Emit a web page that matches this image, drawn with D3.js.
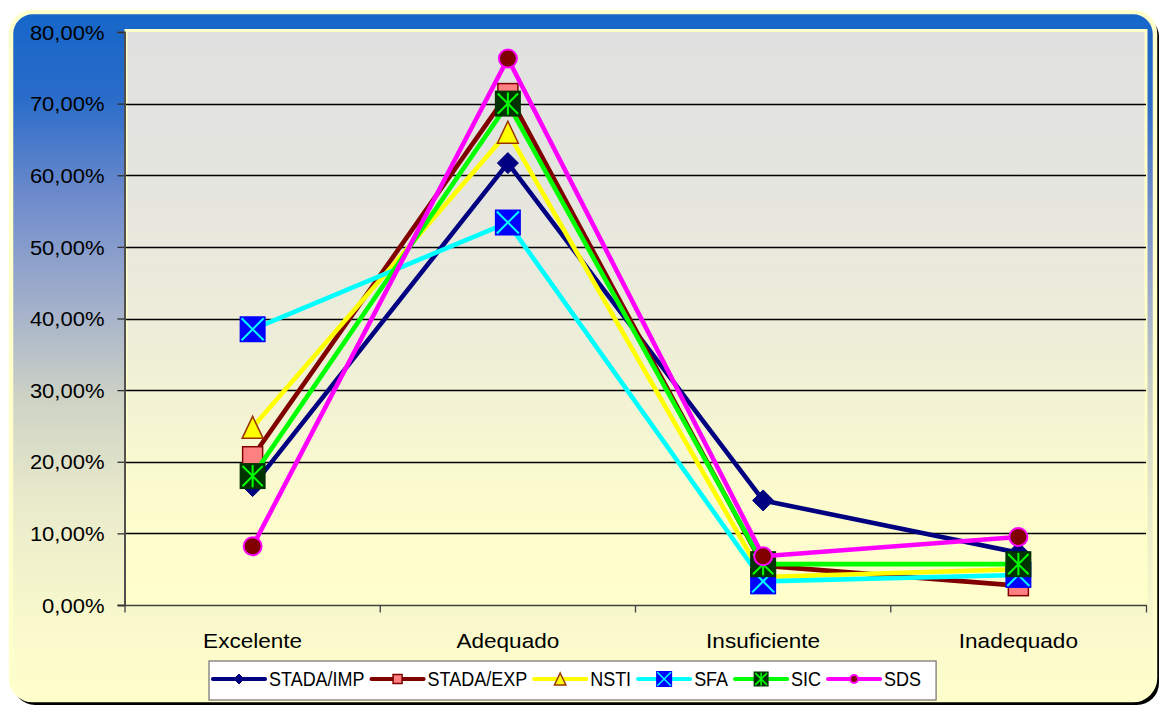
<!DOCTYPE html>
<html>
<head>
<meta charset="utf-8">
<script src="https://cdn.jsdelivr.net/npm/d3@7"></script>
<style>
  html, body { margin: 0; padding: 0; background: #ffffff; }
  svg { display: block; font-family: "Liberation Sans", Arial, sans-serif; }
</style>
</head>
<body>
<svg id="chart" width="1160" height="708"></svg>
<script>
// ---- data (percent) ----
const categories = ["Excelente", "Adequado", "Insuficiente", "Inadequado"];
const seriesNames = ["STADA/IMP", "STADA/EXP", "NSTI", "SFA", "SIC", "SDS"];
const stadaImp = [16.6, 61.7, 14.6, 7.3];
const stadaExp = [20.7, 71.4, 5.5, 2.7];
const nsti     = [24.8, 66.0, 3.9, 5.0];
const sfa      = [38.5, 53.4, 3.3, 4.2];
const sic      = [18.0, 70.0, 5.7, 5.7];
const sds      = [8.2, 76.3, 6.8, 9.5];
const yTickValues = [0, 10, 20, 30, 40, 50, 60, 70, 80];

const seriesValues = [stadaImp, stadaExp, nsti, sfa, sic, sds];

// ---- styles ----
const styles = [
  { line: "#000080", marker: "diamond",  fill: "#000080", stroke: "#000080", size: 21, legendSize: 10 },
  { line: "#800000", marker: "square",   fill: "#FF8080", stroke: "#800000", size: 20, legendSize: 9 },
  { line: "#FFFF00", marker: "triangle", fill: "#FFFF00", stroke: "#993300", size: 22, legendSize: 12 },
  { line: "#00FFFF", marker: "xsquare",  fill: "#0000FF", stroke: "#00FFFF", size: 26, legendSize: 16 },
  { line: "#00FF00", marker: "star",     fill: "#003300", stroke: "#00FF00", size: 26, legendSize: 15 },
  { line: "#FF00FF", marker: "circle",   fill: "#800000", stroke: "#FF00FF", size: 20, legendSize: 10 }
];

const series = seriesNames.map((name, i) => ({ name, values: seriesValues[i], style: styles[i] }));

const svg = d3.select("#chart");
const defs = svg.append("defs");

// frame background gradient
const fg = defs.append("linearGradient").attr("id", "frameGrad")
  .attr("x1", 0).attr("y1", 0).attr("x2", 0).attr("y2", 1);
[[0, "#1566C9"], [0.125, "#2A6CC9"], [0.27, "#6E8BCB"], [0.42, "#A0AECB"],
 [0.56, "#CDD2C4"], [0.71, "#E9EACB"], [0.85, "#F6F6CC"], [1, "#FFFFCC"]]
  .forEach(([o, c]) => fg.append("stop").attr("offset", o).attr("stop-color", c));

// plot area gradient
const pg = defs.append("linearGradient").attr("id", "plotGrad")
  .attr("x1", 0).attr("y1", 0).attr("x2", 0).attr("y2", 1);
[[0, "#E0E0E0"], [0.3, "#E6E6DF"], [0.55, "#EEEED8"], [0.8, "#FBFBCE"], [1, "#FFFFCC"]]
  .forEach(([o, c]) => pg.append("stop").attr("offset", o).attr("stop-color", c));

// chart frame with shadow
svg.append("rect").attr("x", 13).attr("y", 15).attr("width", 1146).attr("height", 690)
  .attr("rx", 22).attr("fill", "#000000");
svg.append("rect").attr("x", 11).attr("y", 12).attr("width", 1144).attr("height", 688)
  .attr("rx", 22).attr("fill", "url(#frameGrad)").attr("stroke", "#FFFFCC").attr("stroke-width", 4.5);

// ---- scales ----
const plot = { left: 125, right: 1146, top: 32, bottom: 605 };
const x = d3.scaleBand().domain(categories).range([plot.left, plot.right]).padding(0);
const y = d3.scaleLinear().domain([0, 80]).range([plot.bottom, plot.top]);
const cx = c => x(c) + x.bandwidth() / 2;

// plot area
svg.append("rect")
  .attr("x", plot.left + 1).attr("y", plot.top - 1.5)
  .attr("width", plot.right - plot.left - 1).attr("height", plot.bottom - plot.top + 1.5)
  .attr("fill", "url(#plotGrad)").attr("stroke", "#FFFFC8").attr("stroke-width", 3);

// horizontal gridlines
svg.append("g").selectAll("line").data(yTickValues.filter(v => v > 0 && v < 80)).join("line")
  .attr("x1", plot.left).attr("x2", plot.right)
  .attr("y1", d => Math.round(y(d)) + 0.5).attr("y2", d => Math.round(y(d)) + 0.5)
  .attr("stroke", "#000000").attr("stroke-width", 1.3);

// stretch helper for text rendered slightly wider than the font's natural width
function stretch(sel, k) {
  sel.each(function () {
    const w = this.getComputedTextLength();
    d3.select(this).attr("textLength", w * k).attr("lengthAdjust", "spacingAndGlyphs");
  });
}

// y axis
const pctFmt = d3.formatLocale({ decimal: ",", thousands: ".", grouping: [3], currency: ["", ""] }).format(".2f");
const yAxis = d3.axisLeft(y).tickValues(yTickValues).tickSize(7).tickPadding(13)
  .tickFormat(d => pctFmt(d) + "%");
const yg = svg.append("g").attr("transform", `translate(${plot.left - 0.5},0)`).call(yAxis);
yg.select(".domain").attr("stroke", "#505050").attr("stroke-width", 2);
yg.selectAll(".tick line").attr("stroke", "#303030").attr("stroke-width", 1.3);
yg.selectAll(".tick text").attr("font-size", 20).attr("fill", "#000000")
  .attr("font-family", "'Liberation Sans', Arial, sans-serif").attr("dy", "0.36em");
stretch(yg.selectAll(".tick text"), 1.1);

// x axis (ticks at category boundaries)
const xg = svg.append("g").attr("transform", `translate(0,${plot.bottom + 0.5})`);
xg.append("line").attr("x1", plot.left).attr("x2", plot.right + 1)
  .attr("stroke", "#404040").attr("stroke-width", 1.5);
xg.selectAll("line.tk").data(categories.concat(["end"])).join("line").attr("class", "tk")
  .attr("x1", (d, i) => i < categories.length ? x(d) : plot.right + 0.5)
  .attr("x2", (d, i) => i < categories.length ? x(d) : plot.right + 0.5)
  .attr("y1", 0).attr("y2", 7).attr("stroke", "#404040").attr("stroke-width", 1.3);
const catLabels = xg.selectAll("text").data(categories).join("text")
  .attr("x", d => cx(d)).attr("y", 42).attr("text-anchor", "middle")
  .attr("font-size", 20.5).attr("fill", "#000000").text(d => d);
stretch(catLabels, 1.1);

// ---- marker drawing ----
function drawMarker(g, st, size) {
  const h = size / 2;
  switch (st.marker) {
    case "diamond":
      g.append("path").attr("d", `M0,${-h}L${h},0L0,${h}L${-h},0Z`)
        .attr("fill", st.fill).attr("stroke", st.stroke).attr("stroke-width", 1);
      break;
    case "square":
      g.append("rect").attr("x", -h).attr("y", -h).attr("width", size).attr("height", size)
        .attr("fill", st.fill).attr("stroke", st.stroke).attr("stroke-width", 1.5);
      break;
    case "triangle": {
      const w = size * 0.95;
      g.append("path").attr("d", `M0,${-h}L${w / 2},${h}L${-w / 2},${h}Z`)
        .attr("fill", st.fill).attr("stroke", st.stroke).attr("stroke-width", 1.5)
        .attr("stroke-linejoin", "miter");
      break;
    }
    case "xsquare": {
      g.append("rect").attr("x", -h).attr("y", -h).attr("width", size).attr("height", size)
        .attr("fill", st.fill);
      const k = h * 0.85;
      g.append("path").attr("d", `M${-k},${-k}L${k},${k}M${k},${-k}L${-k},${k}`)
        .attr("stroke", st.stroke).attr("stroke-width", size > 18 ? 2 : 1.5).attr("fill", "none");
      break;
    }
    case "star": {
      g.append("rect").attr("x", -h).attr("y", -h).attr("width", size).attr("height", size)
        .attr("fill", st.fill);
      const k = h * 0.78;
      g.append("path").attr("d", `M${-k},${-k}L${k},${k}M${k},${-k}L${-k},${k}M0,${-h * 0.85}L0,${h * 0.85}`)
        .attr("stroke", st.stroke).attr("stroke-width", size > 18 ? 2 : 1.5).attr("fill", "none");
      break;
    }
    case "circle":
      g.append("circle").attr("r", h - 1).attr("fill", st.fill)
        .attr("stroke", st.stroke).attr("stroke-width", 2);
      break;
  }
}

// ---- series: line then markers, in series order ----
const line = d3.line().x((d, i) => cx(categories[i])).y(d => y(d));
series.forEach(s => {
  const g = svg.append("g").attr("class", "series");
  g.append("path").datum(s.values).attr("d", line)
    .attr("fill", "none").attr("stroke", s.style.line).attr("stroke-width", 4.6)
    .attr("stroke-linejoin", "round");
  s.values.forEach((v, i) => {
    const mg = g.append("g").attr("transform", `translate(${cx(categories[i])},${y(v)})`);
    drawMarker(mg, s.style, s.style.size);
  });
});

// ---- legend ----
const legend = svg.append("g").attr("class", "legend");
const legendBox = legend.append("rect").attr("y", 661).attr("height", 39)
  .attr("fill", "#FFFFFF").attr("stroke", "#707070").attr("stroke-width", 1.2);
const legendY = 679;
let lx = 213;
series.forEach(s => {
  const g = legend.append("g");
  g.append("line").attr("x1", lx).attr("x2", lx + 52).attr("y1", legendY).attr("y2", legendY)
    .attr("stroke", s.style.line).attr("stroke-width", 4.2).attr("stroke-linecap", "round");
  const mg = g.append("g").attr("transform", `translate(${lx + 26},${legendY})`);
  drawMarker(mg, s.style, s.style.legendSize);
  const t = g.append("text").attr("transform", `translate(${lx + 56},${legendY + 6.5}) scale(1,1.15)`)
    .attr("font-size", 18).attr("fill", "#000000").text(s.name);
  lx = lx + 56 + t.node().getComputedTextLength() + 7;
});
legendBox.attr("x", 209).attr("width", lx - 209 + 8);
</script>
</body>
</html>
